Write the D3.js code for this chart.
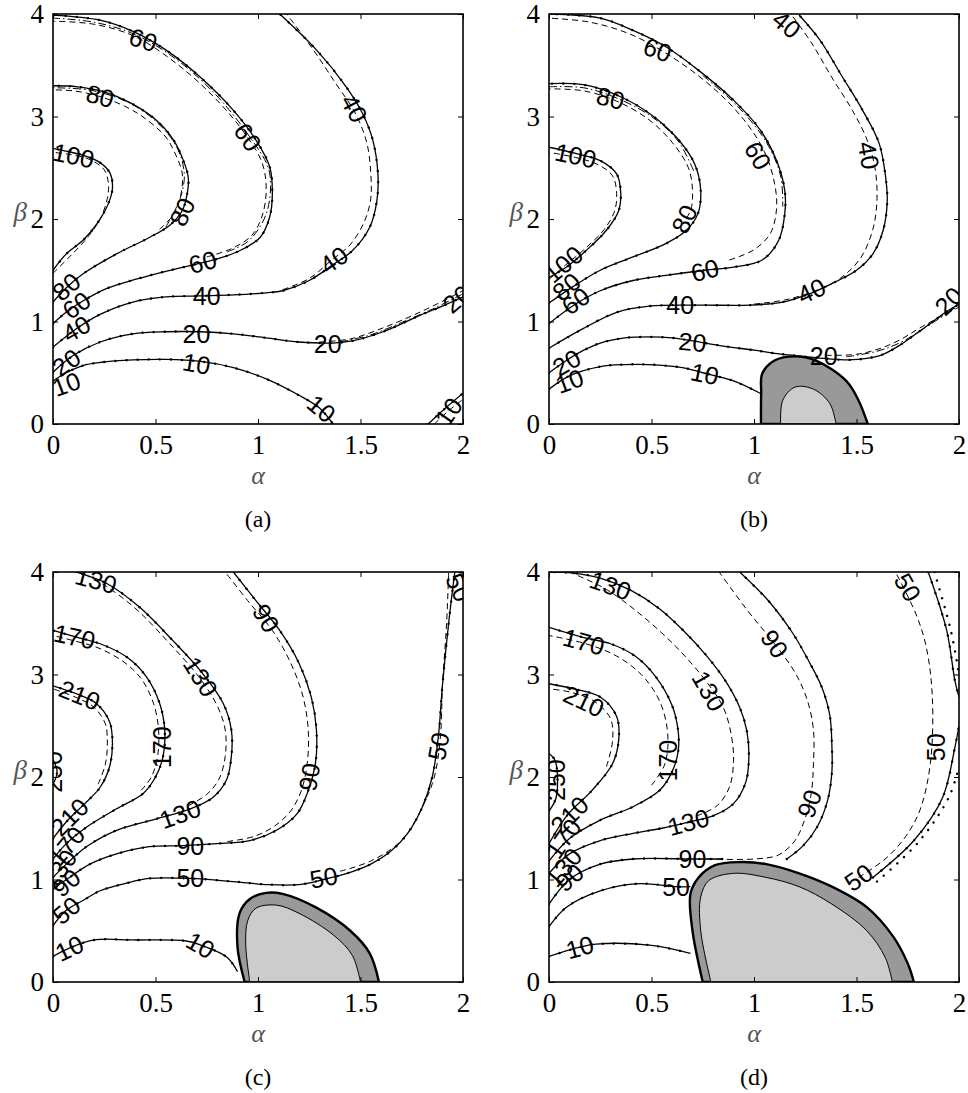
<!DOCTYPE html>
<html>
<head>
<meta charset="utf-8">
<script src="https://cdn.jsdelivr.net/npm/d3@7"></script>
<style>
  body { margin: 0; background: #fff; }
</style>
</head>
<body>
<div id="chart"></div>
<script>
// ---------- tick values ----------
const alphaTicks = [0, 0.5, 1, 1.5, 2];
const betaTicks = [0, 1, 2, 3, 4];

// ---------- panel (a) ----------
const aSolid = [
  [[0,0.42],[0.065,0.5],[0.146,0.57],[0.23,0.6],[0.39,0.625],[0.55,0.63],[0.72,0.61],[0.88,0.55],[1.04,0.44],[1.2,0.28],[1.3,0.156],[1.366,0]],
  [[0,0.505],[0.1,0.67],[0.23,0.8],[0.39,0.88],[0.55,0.9],[0.715,0.9],[0.88,0.88],[1.04,0.84],[1.2,0.8],[1.366,0.79],[1.46,0.81],[1.61,0.9],[1.79,1.06],[1.9,1.15],[2,1.24]],
  [[0,0.75],[0.114,0.93],[0.23,1.07],[0.39,1.19],[0.55,1.24],[0.715,1.25],[0.88,1.26],[1.04,1.28],[1.12,1.3],[1.25,1.4],[1.37,1.56],[1.46,1.69],[1.545,1.92],[1.58,2.18],[1.585,2.44],[1.56,2.77],[1.51,3.03],[1.43,3.29],[1.285,3.65],[1.106,4.0]],
  [[0,0.98],[0.07,1.1],[0.146,1.2],[0.26,1.32],[0.4,1.41],[0.55,1.49],[0.7,1.56],[0.8,1.61],[0.91,1.69],[1.01,1.82],[1.057,2.02],[1.07,2.25],[1.057,2.51],[0.99,2.77],[0.88,3.06],[0.715,3.39],[0.55,3.65],[0.39,3.83],[0.23,3.94],[0,3.99]],
  [[0,1.19],[0.065,1.33],[0.15,1.47],[0.31,1.66],[0.47,1.82],[0.57,1.94],[0.63,2.08],[0.655,2.25],[0.66,2.4],[0.64,2.55],[0.585,2.78],[0.5,2.97],[0.38,3.13],[0.25,3.24],[0.12,3.29],[0,3.3]],
  [[0,1.5],[0.065,1.66],[0.15,1.8],[0.22,1.97],[0.27,2.15],[0.29,2.3],[0.28,2.44],[0.23,2.55],[0.15,2.62],[0.07,2.66],[0,2.69]],
  [[1.83,0],[1.9,0.13],[2,0.3]]
];
const aDashed = [
  [[1.3,0.8],[1.45,0.83],[1.6,0.93],[1.8,1.1],[2,1.3]],
  [[1.12,1.31],[1.25,1.42],[1.36,1.6],[1.45,1.75],[1.52,1.98],[1.55,2.2],[1.55,2.45],[1.53,2.75],[1.47,3.05],[1.38,3.32],[1.27,3.65],[1.14,4.0]],
  [[0.75,1.63],[0.87,1.71],[0.97,1.84],[1.02,2.03],[1.04,2.28],[1.02,2.55],[0.93,2.85],[0.78,3.2],[0.6,3.52],[0.4,3.78],[0.2,3.9],[0,3.93]],
  [[0.52,1.9],[0.59,2.05],[0.625,2.25],[0.63,2.45],[0.6,2.62],[0.55,2.8],[0.45,2.98],[0.35,3.1],[0.22,3.2],[0.1,3.25],[0,3.26]],
  [[0,1.47],[0.08,1.63],[0.16,1.8],[0.23,2.0],[0.265,2.2],[0.27,2.35],[0.25,2.48],[0.18,2.58],[0.08,2.63],[0,2.65]],
  [[1.86,0],[1.93,0.13],[2,0.24]]
];
const aDashDot = [
  [[1.4,0.8],[1.55,0.87],[1.7,0.99],[1.85,1.12],[2,1.27]],
  [[0.85,1.68],[0.95,1.78],[1.03,2.0],[1.06,2.25],[1.05,2.5],[0.96,2.8],[0.8,3.2],[0.6,3.56],[0.4,3.8],[0.2,3.92],[0,3.96]],
  [[0.55,1.92],[0.62,2.2],[0.64,2.45],[0.59,2.75],[0.42,3.08],[0.2,3.25],[0,3.28]]
];
const aLabels = [
  [0.065,0.39,"10",-20],[0.7,0.59,"10",10],[1.31,0.15,"10",40],[1.93,0.12,"10",-55],
  [0.065,0.6,"20",-35],[0.7,0.88,"20",0],[1.34,0.78,"20",0],[1.97,1.22,"20",-40],
  [0.114,0.93,"40",-30],[0.75,1.25,"40",0],[1.37,1.6,"40",-35],[1.47,3.08,"40",62],
  [0.114,1.16,"60",-35],[0.73,1.58,"60",-15],[0.95,2.8,"60",55],[0.44,3.75,"60",18],
  [0.065,1.34,"80",-40],[0.63,2.07,"80",-65],[0.23,3.2,"80",15],
  [0.1,2.62,"100",12]
];

// ---------- panel (b) ----------
const bSolid = [
  [[0,0.34],[0.1,0.47],[0.25,0.56],[0.37,0.58],[0.49,0.58],[0.65,0.55],[0.75,0.5],[0.9,0.42],[1.03,0.3]],
  [[0,0.5],[0.085,0.62],[0.17,0.72],[0.25,0.79],[0.37,0.84],[0.49,0.85],[0.6,0.84],[0.7,0.81],[0.85,0.76],[1.0,0.72],[1.1,0.69],[1.19,0.67],[1.34,0.64],[1.46,0.625],[1.55,0.64],[1.63,0.68],[1.72,0.78],[1.79,0.88],[1.86,0.98],[1.92,1.07],[2,1.17]],
  [[0,0.74],[0.166,0.93],[0.33,1.09],[0.49,1.15],[0.73,1.16],[0.98,1.16],[1.14,1.19],[1.27,1.27],[1.38,1.37],[1.5,1.5],[1.58,1.66],[1.63,1.89],[1.65,2.18],[1.64,2.44],[1.61,2.74],[1.53,3.06],[1.43,3.39],[1.32,3.75],[1.22,3.99]],
  [[0,0.98],[0.13,1.17],[0.25,1.3],[0.41,1.4],[0.57,1.45],[0.76,1.5],[0.9,1.53],[1.04,1.6],[1.12,1.79],[1.15,2.05],[1.15,2.28],[1.11,2.57],[1.03,2.87],[0.9,3.16],[0.73,3.45],[0.57,3.68],[0.41,3.84],[0.25,3.96],[0,4.0]],
  [[0,1.18],[0.117,1.34],[0.25,1.5],[0.41,1.63],[0.57,1.76],[0.67,1.89],[0.726,2.05],[0.74,2.28],[0.71,2.54],[0.62,2.8],[0.49,3.03],[0.33,3.21],[0.166,3.31],[0,3.32]],
  [[0,1.43],[0.084,1.53],[0.18,1.69],[0.28,1.89],[0.34,2.08],[0.35,2.25],[0.33,2.44],[0.25,2.57],[0.13,2.64],[0,2.7]]
];
const bDashed = [
  [[1.35,0.67],[1.5,0.68],[1.62,0.74],[1.72,0.83],[1.82,0.95],[2,1.14]],
  [[1.0,1.17],[1.15,1.21],[1.3,1.3],[1.42,1.42],[1.52,1.62],[1.58,1.9],[1.6,2.2],[1.59,2.5],[1.55,2.78],[1.48,3.06],[1.38,3.38],[1.28,3.72],[1.18,4.0]],
  [[0.88,1.6],[1.0,1.7],[1.08,1.86],[1.11,2.1],[1.1,2.35],[1.05,2.66],[0.95,2.97],[0.8,3.28],[0.6,3.58],[0.4,3.8],[0.2,3.92],[0,3.96]],
  [[0.64,1.93],[0.69,2.08],[0.7,2.28],[0.68,2.5],[0.6,2.75],[0.48,2.98],[0.33,3.15],[0.17,3.25],[0,3.27]],
  [[0,1.41],[0.08,1.55],[0.17,1.7],[0.27,1.9],[0.32,2.08],[0.33,2.25],[0.31,2.42],[0.24,2.53],[0.13,2.6],[0,2.65]]
];
const bDashDot = [
  [[1.45,0.655],[1.6,0.71],[1.72,0.8],[1.85,0.96],[2,1.155]],
  [[0.75,3.4],[0.92,3.1],[1.06,2.75],[1.13,2.42],[1.14,2.12]],
  [[0,3.29],[0.17,3.28],[0.33,3.18],[0.5,3.0],[0.63,2.76],[0.71,2.45]]
];
const bLabels = [
  [0.1,0.42,"10",-20],[0.76,0.49,"10",12],
  [0.085,0.6,"20",-30],[0.7,0.8,"20",5],[1.34,0.66,"20",0],[1.95,1.2,"20",-45],
  [0.64,1.16,"40",0],[1.28,1.3,"40",-25],[1.56,2.62,"40",80],[1.16,3.9,"40",40],
  [0.13,1.2,"60",-35],[0.76,1.5,"60",-15],[1.02,2.62,"60",60],[0.53,3.65,"60",20],
  [0.085,1.34,"80",-40],[0.66,2.0,"80",-65],[0.3,3.18,"80",15],
  [0.07,1.56,"100",-40],[0.13,2.62,"100",12]
];
const bOuter = [[1.034,0],[1.035,0.3],[1.04,0.49],[1.1,0.62],[1.2,0.66],[1.3,0.62],[1.45,0.42],[1.51,0.23],[1.555,0]];
const bInner = [[1.13,0],[1.14,0.23],[1.2,0.36],[1.29,0.34],[1.37,0.2],[1.4,0]];

// ---------- panel (c) ----------
const cSolid = [
  [[0,0.25],[0.08,0.33],[0.2,0.41],[0.39,0.41],[0.65,0.4],[0.72,0.36],[0.85,0.24],[0.9,0.1]],
  [[0,0.55],[0.065,0.7],[0.15,0.8],[0.23,0.89],[0.35,0.96],[0.47,1.01],[0.67,1.01],[0.88,0.98],[1.05,0.95],[1.2,0.95],[1.32,1.0],[1.45,1.07],[1.55,1.15],[1.65,1.28],[1.73,1.45],[1.8,1.7],[1.85,2.0],[1.88,2.4],[1.9,2.9],[1.93,3.5],[1.96,4.0]],
  [[0,0.91],[0.08,1.02],[0.18,1.15],[0.31,1.25],[0.47,1.32],[0.63,1.33],[0.8,1.35],[0.96,1.38],[1.09,1.48],[1.19,1.64],[1.24,1.84],[1.28,2.13],[1.285,2.46],[1.26,2.78],[1.2,3.11],[1.106,3.43],[0.99,3.72],[0.88,4.0]],
  [[0,1.02],[0.065,1.15],[0.163,1.32],[0.31,1.48],[0.5,1.59],[0.67,1.69],[0.78,1.8],[0.846,1.97],[0.87,2.2],[0.87,2.46],[0.83,2.72],[0.73,3.01],[0.585,3.33],[0.42,3.66],[0.26,3.89],[0.11,4.0]],
  [[0,1.2],[0.065,1.35],[0.163,1.51],[0.31,1.69],[0.44,1.84],[0.5,2.0],[0.537,2.2],[0.545,2.46],[0.52,2.72],[0.455,2.98],[0.36,3.17],[0.23,3.3],[0.105,3.37],[0,3.43]],
  [[0,1.4],[0.073,1.58],[0.155,1.74],[0.23,1.9],[0.276,2.1],[0.29,2.33],[0.276,2.54],[0.21,2.72],[0.13,2.8],[0,2.89]],
  [[0,1.93],[0.02,2.05],[0,2.17]]
];
const cDashed = [
  [[1.4,1.08],[1.55,1.18],[1.7,1.38],[1.8,1.7],[1.86,2.0],[1.89,2.4],[1.9,2.9],[1.92,3.5],[1.93,4.0]],
  [[0.85,1.37],[0.98,1.42],[1.08,1.52],[1.16,1.67],[1.21,1.86],[1.24,2.13],[1.245,2.46],[1.22,2.78],[1.16,3.11],[1.07,3.43],[0.95,3.72],[0.84,4.0]],
  [[0.66,1.72],[0.75,1.83],[0.81,1.98],[0.84,2.2],[0.84,2.46],[0.8,2.7],[0.71,2.98],[0.57,3.3],[0.41,3.63],[0.26,3.86],[0.13,4.0]],
  [[0.43,1.87],[0.48,2.0],[0.51,2.2],[0.515,2.46],[0.49,2.72],[0.43,2.96],[0.34,3.13],[0.22,3.26],[0.1,3.33],[0,3.38]],
  [[0.22,1.93],[0.255,2.12],[0.265,2.33],[0.255,2.52],[0.2,2.68],[0.12,2.77],[0,2.86]]
];
const cDashDot = [];
const cLabels = [
  [0.08,0.33,"10",-25],[0.72,0.36,"10",30],
  [0.065,0.7,"50",-40],[0.67,1.01,"50",0],[1.32,1.02,"50",-10],[1.88,2.3,"50",-80],[1.98,3.85,"50",65],
  [0.065,0.97,"90",-40],[0.67,1.33,"90",0],[1.25,2.0,"90",-80],[1.04,3.55,"90",58],
  [0.03,1.1,"130",-55],[0.62,1.64,"130",-20],[0.72,2.98,"130",58],[0.21,3.92,"130",15],
  [0.065,1.33,"170",-50],[0.53,2.29,"170",-90],[0.105,3.37,"170",12],
  [0.08,1.61,"210",-45],[0.13,2.8,"210",22],
  [0.0,2.05,"250",-90]
];
const cOuter = [[0.935,0],[0.9,0.34],[0.91,0.67],[0.96,0.81],[1.04,0.87],[1.12,0.86],[1.28,0.73],[1.45,0.5],[1.545,0.28],[1.59,0]];
const cInner = [[0.96,0],[0.94,0.37],[0.95,0.6],[0.99,0.72],[1.09,0.75],[1.2,0.67],[1.37,0.455],[1.46,0.26],[1.5,0]];

// ---------- panel (d) ----------
const dSolid = [
  [[0,0.25],[0.15,0.34],[0.23,0.37],[0.49,0.36],[0.69,0.28]],
  [[0,0.54],[0.085,0.73],[0.25,0.89],[0.44,0.96],[0.62,0.93],[0.69,0.93]],
  [[0,0.76],[0.1,1.0],[0.25,1.15],[0.41,1.2],[0.7,1.2],[0.85,1.2]],
  [[1.16,1.2],[1.24,1.33],[1.31,1.52],[1.36,1.78],[1.38,2.05],[1.38,2.3],[1.37,2.6],[1.33,2.88],[1.27,3.12],[1.19,3.4],[1.07,3.72],[0.93,4.0]],
  [[0,1.06],[0.1,1.25],[0.25,1.38],[0.41,1.45],[0.55,1.5],[0.68,1.56],[0.8,1.62],[0.9,1.74],[0.96,1.95],[0.975,2.2],[0.965,2.45],[0.93,2.68],[0.86,2.94],[0.77,3.18],[0.66,3.42],[0.54,3.64],[0.4,3.82],[0.25,3.94],[0.12,3.99],[0,4.0]],
  [[0,1.18],[0.1,1.4],[0.25,1.58],[0.41,1.71],[0.54,1.87],[0.6,2.05],[0.63,2.25],[0.63,2.45],[0.6,2.7],[0.52,2.98],[0.42,3.18],[0.3,3.3],[0.17,3.36],[0,3.46]],
  [[0,1.35],[0.09,1.63],[0.21,1.87],[0.31,2.13],[0.34,2.36],[0.33,2.59],[0.25,2.78],[0.12,2.86],[0,2.91]],
  [[0,1.67],[0.035,1.8],[0.03,2.16],[0,2.23]],
  [[1.58,1.02],[1.78,1.38],[1.92,1.8],[1.98,2.29],[2,2.5]],
  [[1.85,4.0],[1.94,3.43],[1.98,2.94],[2,2.78]]
];
const dDotted = [
  [[1.6,0.98],[1.8,1.36],[1.95,1.8],[2,2.1]],
  [[1.88,4.0],[1.96,3.43],[2,3.0]]
];
const dDashed = [
  [[0.77,1.2],[1.0,1.2],[1.12,1.24],[1.2,1.38],[1.25,1.6],[1.28,1.85],[1.29,2.13],[1.29,2.46],[1.26,2.75],[1.2,3.02],[1.1,3.3],[0.97,3.62],[0.83,4.0]],
  [[0.72,1.62],[0.82,1.72],[0.88,1.9],[0.9,2.15],[0.89,2.4],[0.85,2.68],[0.76,2.95],[0.62,3.27],[0.45,3.58],[0.28,3.83],[0.1,4.0]],
  [[0.5,1.92],[0.56,2.1],[0.58,2.3],[0.57,2.55],[0.53,2.78],[0.45,3.0],[0.33,3.18],[0.18,3.3],[0,3.38]],
  [[0.28,2.1],[0.31,2.35],[0.3,2.57],[0.22,2.74],[0.1,2.83],[0,2.86]],
  [[1.51,1.02],[1.64,1.2],[1.74,1.42],[1.81,1.68],[1.86,2.13],[1.87,2.78],[1.84,3.27],[1.79,3.59],[1.69,4.0]]
];
const dDashDot = [];
const dLabels = [
  [0.15,0.34,"10",-15],
  [0.62,0.93,"50",0],[1.51,1.02,"50",-35],[1.89,2.29,"50",-90],[1.75,3.85,"50",60],
  [0.1,1.02,"90",-40],[0.7,1.2,"90",0],[1.27,1.74,"90",-70],[1.1,3.3,"90",55],
  [0.07,1.12,"130",-50],[0.68,1.56,"130",-15],[0.78,2.84,"130",60],[0.3,3.87,"130",20],
  [0.07,1.4,"170",-55],[0.58,2.16,"170",-90],[0.17,3.32,"170",15],
  [0.1,1.63,"210",-45],[0.17,2.74,"210",25],
  [0.035,1.97,"250",-90]
];
const dOuter = [[0.75,0],[0.7,0.5],[0.69,0.86],[0.73,1.02],[0.81,1.14],[0.93,1.17],[1.06,1.15],[1.22,1.06],[1.38,0.93],[1.55,0.73],[1.68,0.44],[1.75,0.18],[1.78,0]];
const dInner = [[0.79,0],[0.74,0.5],[0.74,0.83],[0.78,0.99],[0.9,1.06],[1.06,1.02],[1.22,0.93],[1.38,0.76],[1.55,0.5],[1.64,0.24],[1.675,0]];

// ---------- layout ----------
const W = 410, H = 410;
const panels = [
  {id:"a", x:53,  y:14,  solid:aSolid, dashed:aDashed, dashdot:aDashDot, dotted:[], labels:aLabels, outer:null, inner:null},
  {id:"b", x:549, y:14,  solid:bSolid, dashed:bDashed, dashdot:bDashDot, dotted:[], labels:bLabels, outer:bOuter, inner:bInner},
  {id:"c", x:53,  y:572, solid:cSolid, dashed:cDashed, dashdot:cDashDot, dotted:[], labels:cLabels, outer:cOuter, inner:cInner},
  {id:"d", x:549, y:572, solid:dSolid, dashed:dDashed, dashdot:dDashDot, dotted:dDotted, labels:dLabels, outer:dOuter, inner:dInner}
];

const serif = "'Liberation Serif', 'Times New Roman', serif";
const sans = "'Liberation Sans', Arial, Helvetica, sans-serif";

const svg = d3.select("#chart").append("svg")
  .attr("width", 968)
  .attr("height", 1093);

const x = d3.scaleLinear().domain([0, 2]).range([0, W]);
const y = d3.scaleLinear().domain([0, 4]).range([H, 0]);

const line = d3.line()
  .x(d => x(d[0]))
  .y(d => y(d[1]))
  .curve(d3.curveCatmullRom.alpha(0.5));

panels.forEach(p => {
  let g = svg.append("g").attr("transform", `translate(${p.x},${p.y})`);

  g.append("clipPath").attr("id", "clip-" + p.id)
    .append("rect").attr("width", W).attr("height", H);

  let plot = g.append("g").attr("clip-path", `url(#clip-${p.id})`);

  // gray regions
  if (p.outer) {
    plot.append("path")
      .attr("d", line(p.outer) + "Z")
      .attr("fill", "#999")
      .attr("stroke", "#000")
      .attr("stroke-width", 2.4);
    plot.append("path")
      .attr("d", line(p.inner) + "Z")
      .attr("fill", "#ccc")
      .attr("stroke", "#000")
      .attr("stroke-width", 1);
  }

  plot.selectAll(".dash").data(p.dashed).enter().append("path")
    .attr("d", line).attr("fill", "none")
    .attr("stroke", "#000").attr("stroke-width", 1)
    .attr("stroke-dasharray", "6,4");

  plot.selectAll(".dashdot").data(p.dashdot).enter().append("path")
    .attr("d", line).attr("fill", "none")
    .attr("stroke", "#000").attr("stroke-width", 1)
    .attr("stroke-dasharray", "8,3,1.5,3");

  plot.selectAll(".solid").data(p.solid).enter().append("path")
    .attr("d", line).attr("fill", "none")
    .attr("stroke", "#000").attr("stroke-width", 1.3);

  // dots along solid lines
  plot.selectAll(".dots").data(p.solid).enter().append("path")
    .attr("d", line).attr("fill", "none")
    .attr("stroke", "#000").attr("stroke-width", 2.4)
    .attr("stroke-linecap", "round")
    .attr("stroke-dasharray", "0.1,11");

  plot.selectAll(".dotted").data(p.dotted).enter().append("path")
    .attr("d", line).attr("fill", "none")
    .attr("stroke", "#000").attr("stroke-width", 2.4)
    .attr("stroke-linecap", "round")
    .attr("stroke-dasharray", "0.1,9");

  // contour labels
  plot.selectAll(".clab").data(p.labels).enter().append("text")
    .attr("text-anchor", "middle")
    .attr("dy", "0.36em")
    .attr("transform", d => `translate(${x(d[0])},${y(d[1])}) rotate(${d[3]})`)
    .style("font-family", sans)
    .style("font-size", "25px")
    .attr("fill", "#000")
    .text(d => d[2]);

  // axes, ticks inward on all sides
  let xAxis = d3.axisBottom(x).tickValues(alphaTicks).tickSize(-5).tickPadding(11).tickFormat(d3.format(""));
  let yAxis = d3.axisLeft(y).tickValues(betaTicks).tickSize(-5).tickPadding(9).tickFormat(d3.format("d"));
  g.append("g").attr("transform", `translate(0,${H})`).call(xAxis);
  g.append("g").call(yAxis);
  g.append("g").call(d3.axisTop(x).tickValues(alphaTicks).tickSize(-5).tickFormat(""));
  g.append("g").attr("transform", `translate(${W},0)`).call(d3.axisRight(y).tickValues(betaTicks).tickSize(-5).tickFormat(""));
  g.selectAll(".domain").remove();
  g.selectAll(".tick line").attr("stroke", "#000");
  g.selectAll(".tick text")
    .style("font-family", serif)
    .style("font-size", "27px")
    .attr("fill", "#000");

  g.append("rect")
    .attr("width", W).attr("height", H)
    .attr("fill", "none").attr("stroke", "#000").attr("stroke-width", 1.6);

  // axis names
  g.append("text")
    .attr("x", W / 2).attr("y", H + 60)
    .attr("text-anchor", "middle")
    .style("font-family", serif)
    .style("font-style", "italic").style("font-size", "26px").attr("fill", "#555")
    .text("α");
  g.append("text")
    .attr("x", -26).attr("y", y(2) + 2)
    .attr("text-anchor", "end")
    .style("font-family", serif)
    .style("font-style", "italic").style("font-size", "27px").attr("fill", "#555")
    .text("β");

  g.append("text")
    .attr("x", W / 2).attr("y", H + 103)
    .attr("text-anchor", "middle")
    .style("font-family", serif)
    .style("font-size", "24px")
    .text("(" + p.id + ")");
});
</script>
</body>
</html>
